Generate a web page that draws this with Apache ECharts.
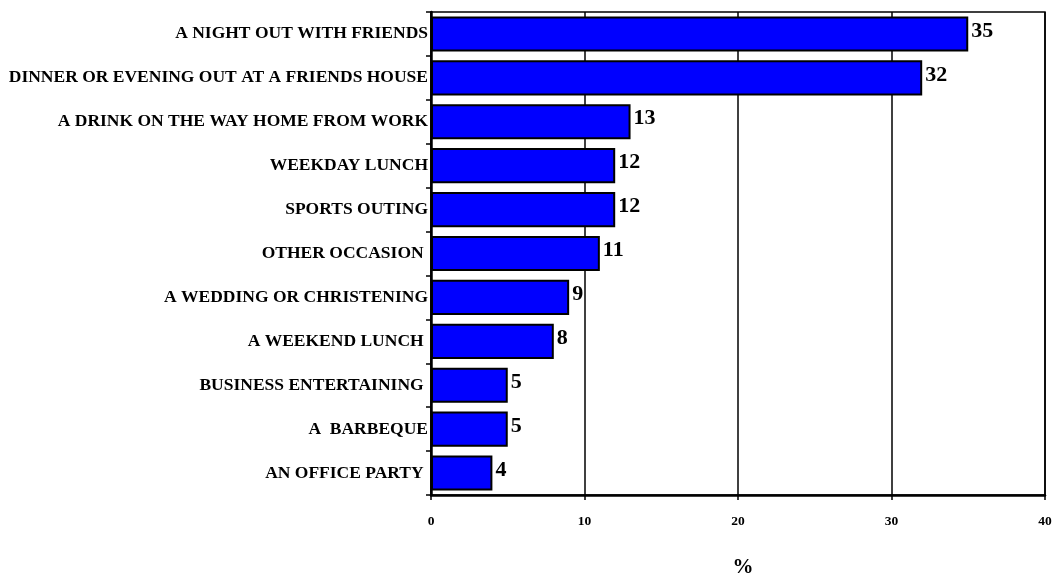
<!DOCTYPE html>
<html>
<head>
<meta charset="utf-8">
<script src="https://cdn.jsdelivr.net/npm/echarts@6/dist/echarts.min.js"></script>
<style>
  html, body { margin: 0; padding: 0; background: #fff; }
  #chart { width: 1052px; height: 579px; }
</style>
</head>
<body>
<div id="chart"></div>
<script>
// Drinking occasions, percentage of respondents
const occasions = [
  'A NIGHT OUT WITH FRIENDS',
  'DINNER OR EVENING OUT AT A FRIENDS HOUSE',
  'A DRINK ON THE WAY HOME FROM WORK',
  'WEEKDAY LUNCH',
  'SPORTS OUTING',
  'OTHER OCCASION ',
  'A WEDDING OR CHRISTENING',
  'A WEEKEND LUNCH ',
  'BUSINESS ENTERTAINING ',
  'A  BARBEQUE',
  'AN OFFICE PARTY '
];
const percentages = [35, 32, 13, 12, 12, 11, 9, 8, 5, 5, 4];
const xTicks = [0, 10, 20, 30, 40];

const serif = '"Liberation Serif", "Times New Roman", serif';

const chart = echarts.init(document.getElementById('chart'), null, { renderer: 'canvas' });
chart.setOption({
  animation: false,
  backgroundColor: '#ffffff',
  grid: {
    left: 431, right: 7, top: 12, bottom: 84,
    show: true, borderColor: '#000', borderWidth: 1.5,
    containLabel: false,
    outerBoundsMode: 'none'
  },
  xAxis: {
    type: 'value',
    min: xTicks[0], max: xTicks[xTicks.length - 1], interval: 10,
    name: '%',
    nameLocation: 'middle',
    nameGap: 62,
    nameTextStyle: { fontFamily: serif, fontWeight: 'bold', fontSize: 21, color: '#000', padding: [0, 0, 0, 10] },
    axisLine: { show: true, lineStyle: { color: '#000', width: 2.5 } },
    axisTick: { show: true, length: 5, lineStyle: { color: '#000', width: 1.5 } },
    axisLabel: { margin: 20, fontFamily: serif, fontWeight: 'bold', fontSize: 13.5, color: '#000' },
    splitLine: { show: true, lineStyle: { color: '#000', width: 1.5 } }
  },
  yAxis: {
    type: 'category',
    data: occasions,
    inverse: true,
    axisLine: { show: true, lineStyle: { color: '#000', width: 2.5 } },
    axisTick: { show: true, length: 5, inside: false, lineStyle: { color: '#000', width: 1.5 } },
    axisLabel: {
      margin: 3,
      fontFamily: serif, fontWeight: 'bold', fontSize: 17.5, color: '#000',
      padding: [0, 0, 6, 0]
    },
    splitLine: { show: false }
  },
  series: [{
    type: 'bar',
    data: percentages,
    barCategoryGap: '20%',
    itemStyle: { color: '#0000ff', borderColor: '#000', borderWidth: 2 },
    label: {
      show: true,
      position: 'right',
      distance: 3,
      offset: [0, -3],
      fontFamily: serif, fontWeight: 'bold', fontSize: 22, color: '#000'
    }
  }]
});
</script>
</body>
</html>
